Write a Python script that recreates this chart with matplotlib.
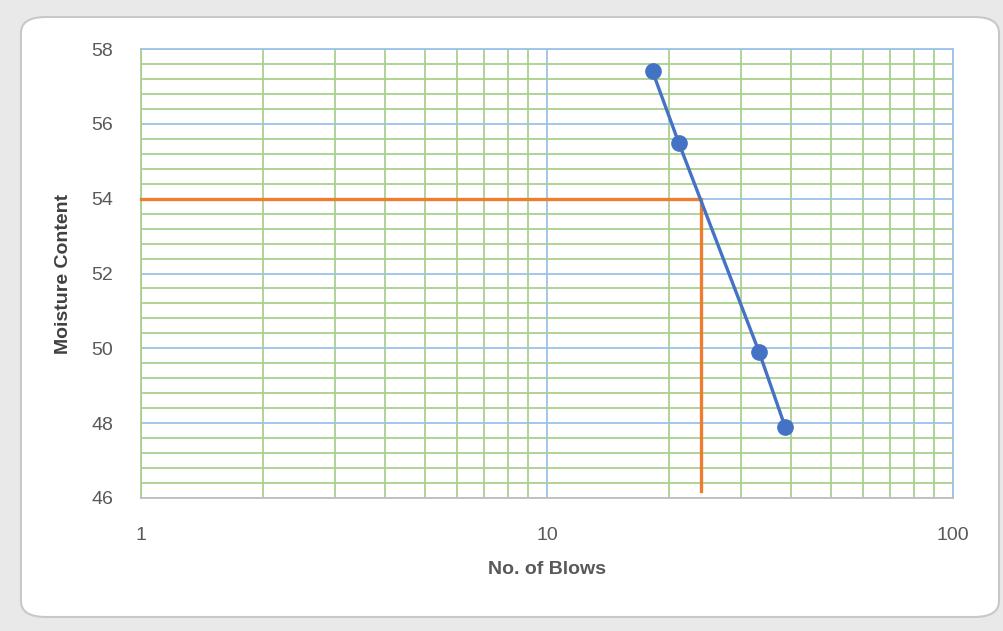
import matplotlib.pyplot as plt
import numpy as np
from matplotlib.patches import FancyBboxPatch

# flow curve data
blows = [18.2, 21.1, 33.3, 38.6]
moisture = [57.4, 55.5, 49.9, 47.9]

# liquid limit guide (orange)
ll_blows = 24
ll_moisture = 54.0
guide_x = [1, ll_blows, ll_blows]
guide_y = [ll_moisture, ll_moisture, 46.2]

x_ticks = [1, 10, 100]
y_ticks = [46, 48, 50, 52, 54, 56, 58]

plt.rcParams['font.family'] = ['Liberation Sans', 'DejaVu Sans']

fig = plt.figure(figsize=(10.04, 6.31), dpi=100)
fig.patch.set_facecolor('#e9e9e9')

# chart area frame (rounded, like the Excel chart object)
frame = FancyBboxPatch((21 / 1004, 14 / 631), 978 / 1004, 600 / 631,
                       boxstyle='round,pad=0,rounding_size=0.025',
                       transform=fig.transFigure, facecolor='white',
                       edgecolor='#c8c8c8', linewidth=1.5, zorder=-5)
fig.patches.append(frame)

ax = fig.add_axes([141 / 1004, 1 - 498 / 631, 812 / 1004, 449 / 631])
ax.set_zorder(1)
ax.set_facecolor('white')
ax.set_xscale('log')
ax.set_xlim(1, 100)
ax.set_ylim(46, 58)

# grid: minor green, major blue
ax.set_xticks(x_ticks)
ax.set_xticklabels([str(t) for t in x_ticks])
ax.set_xticks([m * d for d in (1, 10) for m in range(2, 10)], minor=True)
ax.set_yticks(y_ticks)
ax.set_yticks(np.arange(46, 58.01, 0.4), minor=True)
ax.grid(which='minor', color='#a9d18e', linewidth=1.3, zorder=1)
ax.grid(which='major', color='#9dc3e6', linewidth=1.3, zorder=1.5)
ax.tick_params(which='both', length=0)
ax.tick_params(axis='x', pad=21, labelsize=14, labelcolor='#595959')
ax.tick_params(axis='y', pad=20, labelsize=14, labelcolor='#595959')
ax.set_xticklabels([], minor=True)
ax.set_yticklabels([], minor=True)

ax.spines['left'].set_color('#a9d18e')
ax.spines['top'].set_color('#9dc3e6')
ax.spines['right'].set_color('#9dc3e6')
ax.spines['bottom'].set_color('#bfbfbf')
for s in ax.spines.values():
    s.set_linewidth(1.3)

ax.plot(guide_x, guide_y, color='#ed7d31', linewidth=2.4, zorder=3,
        solid_joinstyle='miter', clip_on=False)
ax.plot(blows, moisture, color='#4472c4', linewidth=2.4, marker='o',
        markersize=11, zorder=4, clip_on=False)

ax.set_xlabel('No. of Blows', fontsize=14, fontweight='bold', color='#595959',
              labelpad=12)
ax.set_ylabel('Moisture Content', fontsize=14, fontweight='bold', color='#404040',
              labelpad=14)

plt.savefig('out.png', dpi=100, facecolor=fig.get_facecolor())
